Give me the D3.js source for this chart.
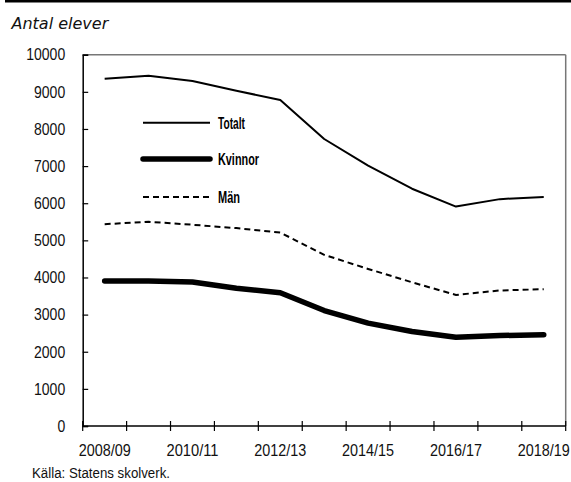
<!DOCTYPE html>
<html><head><meta charset="utf-8">
<script src="https://cdn.jsdelivr.net/npm/d3@7"></script>
<style>
html,body{margin:0;padding:0;background:#fff;}
svg{display:block;}
</style></head>
<body>
<script>
const years = ["2008/09","2009/10","2010/11","2011/12","2012/13","2013/14","2014/15","2015/16","2016/17","2017/18","2018/19"];
const totalt = [9350,9430,9290,9030,8780,7730,7010,6390,5910,6110,6170];
const kvinnor = [3905,3905,3880,3710,3590,3110,2770,2545,2390,2435,2460];
const man = [5435,5500,5420,5330,5210,4610,4230,3870,3530,3650,3685];
const yTicks = [0,1000,2000,3000,4000,5000,6000,7000,8000,9000,10000];
const xLabels = ["2008/09","2010/11","2012/13","2014/15","2016/17","2018/19"];

const FONT = "'Liberation Sans', Arial, sans-serif";
const W = 571, H = 482;
const svg = d3.select("body").append("svg").attr("width", W).attr("height", H);

// partially visible title rule at top
svg.append("rect").attr("x", 5).attr("y", 0).attr("width", W - 5).attr("height", 2.5).attr("fill", "#000");

svg.append("text").attr("x", 11.5).attr("y", 28.5)
  .attr("font-family", "DejaVu Sans").attr("font-style", "italic").attr("font-size", 16)
  .attr("fill", "#111").text("Antal elever");

const x = d3.scaleBand().domain(years).range([82.7, 565.7]).paddingInner(0).paddingOuter(0);
const y = d3.scaleLinear().domain([0, 10000]).range([426, 54.7]);

// frame top & right (grey)
svg.append("line").attr("x1", x.range()[0]).attr("x2", x.range()[1]).attr("y1", y(10000)).attr("y2", y(10000))
  .attr("stroke", "#777").attr("stroke-width", 1.5);
svg.append("line").attr("x1", x.range()[1]).attr("x2", x.range()[1]).attr("y1", y(10000)).attr("y2", y(0))
  .attr("stroke", "#777").attr("stroke-width", 1.5);

// y axis
const yAxis = svg.append("g").attr("transform", `translate(${x.range()[0]},0)`)
  .call(d3.axisLeft(y).tickValues(yTicks).tickSize(-5.5).tickPadding(17.5).tickFormat(d3.format("d")));
yAxis.select(".domain").attr("stroke", "#000").attr("stroke-width", 1.5);
yAxis.selectAll(".tick line").attr("stroke", "#000").attr("stroke-width", 1.2);
yAxis.selectAll(".tick text").attr("font-family", FONT).attr("font-size", 16.5).attr("fill", "#111")
  .attr("textLength", d => String(d).length * 7.8).attr("lengthAdjust", "spacingAndGlyphs");

// x axis: ticks at band boundaries
const xg = svg.append("g").attr("transform", `translate(0,${y(0)})`);
xg.append("line").attr("x1", x.range()[0]).attr("x2", x.range()[1]).attr("stroke", "#000").attr("stroke-width", 1.5);
const bounds = years.map(d => x(d)).concat([x.range()[1]]);
xg.selectAll("line.tk").data(bounds).join("line").attr("class", "tk")
  .attr("x1", d => d).attr("x2", d => d).attr("y1", -5).attr("y2", 5)
  .attr("stroke", "#000").attr("stroke-width", 1.2);
xg.selectAll("text").data(xLabels).join("text")
  .attr("x", d => x(d) + x.bandwidth() / 2).attr("y", 30)
  .attr("font-family", FONT).attr("text-anchor", "middle").attr("font-size", 16.5).attr("fill", "#111")
  .attr("textLength", 52).attr("lengthAdjust", "spacingAndGlyphs").text(d => d);

// lines
const cx = d => x(d) + x.bandwidth() / 2;
const line = d3.line().x((d, i) => cx(years[i])).y(d => y(d));
svg.append("path").datum(totalt).attr("d", line).attr("fill", "none").attr("stroke", "#000")
  .attr("stroke-width", 2).attr("stroke-linejoin", "round");
svg.append("path").datum(man).attr("d", line).attr("fill", "none").attr("stroke", "#000")
  .attr("stroke-width", 2).attr("stroke-dasharray", "6,4");
svg.append("path").datum(kvinnor).attr("d", line).attr("fill", "none").attr("stroke", "#000")
  .attr("stroke-width", 5.5).attr("stroke-linejoin", "round").attr("stroke-linecap", "round");

// legend
const legend = [
  {name: "Totalt", w: 2, dash: null, cap: "butt", ly: 122.7, tl: 27},
  {name: "Kvinnor", w: 5.5, dash: null, cap: "round", ly: 159, tl: 41},
  {name: "Män", w: 2, dash: "6,4", cap: "butt", ly: 197, tl: 22}
];
const lg = svg.append("g");
lg.selectAll("line").data(legend).join("line")
  .attr("x1", 143).attr("x2", 210).attr("y1", d => d.ly).attr("y2", d => d.ly)
  .attr("stroke", "#000").attr("stroke-width", d => d.w)
  .attr("stroke-dasharray", d => d.dash).attr("stroke-linecap", d => d.cap);
lg.selectAll("text").data(legend).join("text")
  .attr("x", 218).attr("y", d => d.ly + 6).attr("font-family", FONT).attr("font-size", 16.5).attr("font-weight", "bold")
  .attr("fill", "#000").attr("textLength", d => d.tl).attr("lengthAdjust", "spacingAndGlyphs").text(d => d.name);

svg.append("text").attr("x", 32).attr("y", 478).attr("font-family", FONT).attr("font-size", 15.5)
  .attr("fill", "#111").attr("textLength", 138).attr("lengthAdjust", "spacingAndGlyphs")
  .text("Källa: Statens skolverk.");
</script>
</body></html>
